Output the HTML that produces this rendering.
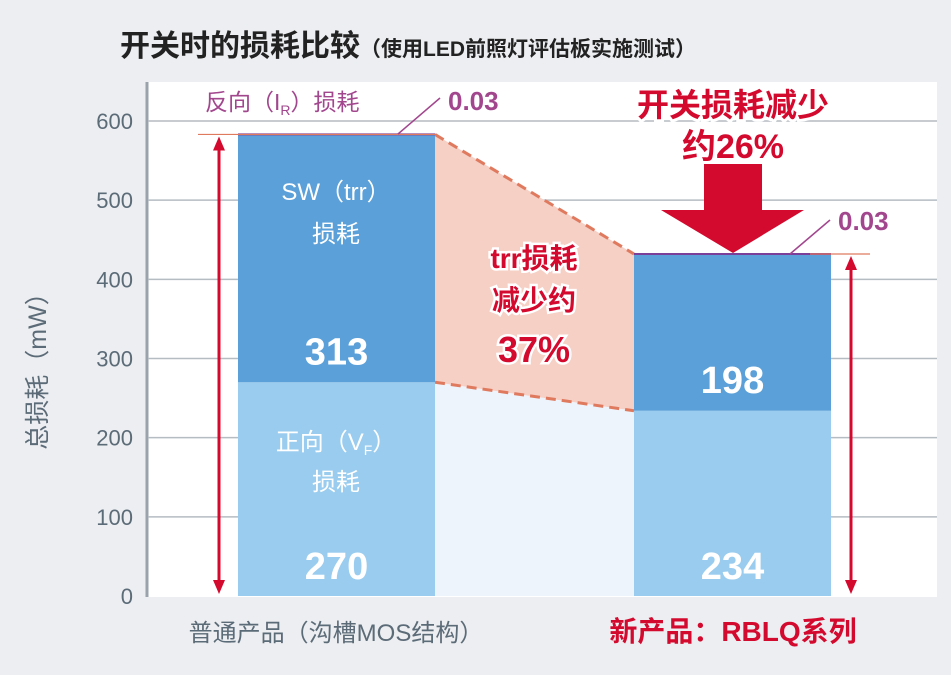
<!DOCTYPE html>
<html><head><meta charset="utf-8"><style>
body{margin:0;background:#eceef1;}
svg{display:block;font-family:"Liberation Sans","Noto Sans CJK SC",sans-serif;}
</style></head><body>
<svg width="951" height="675" viewBox="0 0 951 675">
<rect x="0" y="0" width="951" height="675" fill="#eceef1"/>
<text x="120" y="56" font-size="30" font-weight="bold" fill="#222">开关时的损耗比较<tspan font-size="21">（使用LED前照灯评估板实施测试）</tspan></text>
<rect x="147" y="82" width="790" height="515" fill="#fff"/>
<line x1="147" y1="82" x2="147" y2="597" stroke="#9aa3ab" stroke-width="3"/>
<g id="grid"></g>
<g id="regions"></g>
<g id="bars"></g>
<g id="ticks"></g>
<text x="46" y="365" font-size="25" fill="#5c6b78" transform="rotate(-90 46 365)" text-anchor="middle">总损耗（mW）</text>
<text x="205" y="110" font-size="23" fill="#a2468e">反向（I<tspan font-size="14" dy="5">R</tspan><tspan dy="-5">）损耗</tspan></text>
<line x1="398" y1="134" x2="440" y2="98" stroke="#a2468e" stroke-width="1.5"/>
<text x="448" y="110" font-size="26" font-weight="bold" fill="#a2468e">0.03</text>
<line x1="790" y1="254" x2="830" y2="220" stroke="#a2468e" stroke-width="1.5"/>
<text x="838" y="230" font-size="26" font-weight="bold" fill="#a2468e">0.03</text>
<text x="336" y="200" font-size="24" fill="#fff" text-anchor="middle">SW（trr）</text>
<text x="336" y="242" font-size="24" fill="#fff" text-anchor="middle">损耗</text>
<text x="336" y="450" font-size="24" fill="#fff" text-anchor="middle">正向（V<tspan font-size="14" dy="5">F</tspan><tspan dy="-5">）</tspan></text>
<text x="336" y="490" font-size="24" fill="#fff" text-anchor="middle">损耗</text>
<text x="534" y="268" font-size="28" font-weight="bold" fill="#d4092e" text-anchor="middle" stroke="#fff" stroke-width="5" paint-order="stroke">trr损耗</text>
<text x="534" y="310" font-size="28" font-weight="bold" fill="#d4092e" text-anchor="middle" stroke="#fff" stroke-width="5" paint-order="stroke">减少约</text>
<text x="534" y="362" font-size="36" font-weight="bold" fill="#d4092e" text-anchor="middle" stroke="#fff" stroke-width="5" paint-order="stroke">37%</text>
<text x="733" y="116" font-size="32" font-weight="bold" fill="#d4092e" text-anchor="middle" stroke="#fff" stroke-width="6" paint-order="stroke">开关损耗减少</text>
<text x="733" y="158" font-size="34" font-weight="bold" fill="#d4092e" text-anchor="middle" stroke="#fff" stroke-width="6" paint-order="stroke">约26%</text>
<polygon points="704,164 762,164 762,210 804,210 733,253 661,210 704,210" fill="#d4092e"/>
<text x="336" y="641" font-size="24" fill="#5c6b78" text-anchor="middle">普通产品（沟槽MOS结构）</text>
<text x="733" y="641" font-size="28" font-weight="bold" fill="#d4092e" text-anchor="middle">新产品：RBLQ系列</text>
</svg>
<script>
const categories=["普通产品","新产品"];
const forwardLoss=[270,234];
const switchLoss=[313,198];
const reverseLoss=[0.03,0.03];
const yTicks=[0,100,200,300,400,500,600];
const NS="http://www.w3.org/2000/svg";
const y=v=>596-v*(475/600);
const barX=[238,634], barW=197;
function mk(tag,attrs,parent){const e=document.createElementNS(NS,tag);for(const k in attrs)e.setAttribute(k,attrs[k]);document.getElementById(parent).appendChild(e);return e;}
yTicks.forEach(t=>{
 if(t>0){const l=mk('line',{x1:148,x2:937,y1:y(t),y2:y(t),stroke:'#b5bcc2','stroke-width':1.5},'grid');
 
 }
 const tx=mk('text',{x:133,y:y(t)+8,'font-size':22,fill:'#5c6b78','text-anchor':'end'},'ticks');
 tx.textContent=t;
 
 
});
const tot=[0,1].map(i=>forwardLoss[i]+switchLoss[i]);
const x1=barX[0]+barW,x2=barX[1];
let r=mk('polygon',{points:`${x1},${y(forwardLoss[0])} ${x2},${y(forwardLoss[1])} ${x2},${y(0)} ${x1},${y(0)}`,fill:'#eef4fb'},'regions');


r=mk('polygon',{points:`${x1},${y(tot[0])} ${x2},${y(tot[1])} ${x2},${y(forwardLoss[1])} ${x1},${y(forwardLoss[0])}`,fill:'#f6cfc5'},'regions');


[[tot,'top'],[forwardLoss,'mid']].forEach(([a,n])=>{
 const l=mk('line',{x1:x1,y1:y(a[0]),x2:x2,y2:y(a[1]),stroke:'#e07a5f','stroke-width':3,'stroke-dasharray':'10,6'},'regions');
 
 
});
[0,1].forEach(i=>{
 const bx=barX[i];
 let b=mk('rect',{x:bx,y:y(forwardLoss[i]),width:barW,height:y(0)-y(forwardLoss[i]),fill:'#99ccee'},'bars');
 
 
 b=mk('rect',{x:bx,y:y(tot[i]),width:barW,height:y(forwardLoss[i])-y(tot[i]),fill:'#5ba0d8'},'bars');
 
 
 b=mk('line',{x1:bx,x2:bx+barW,y1:y(tot[i]+reverseLoss[i]),y2:y(tot[i]+reverseLoss[i]),stroke:'#7b3f9a','stroke-width':2},'bars');
 
 
 let t=mk('text',{x:bx+barW/2,y:y(0)-17,'font-size':38,'font-weight':'bold',fill:'#fff','text-anchor':'middle'},'bars');
 t.textContent=forwardLoss[i];
 
 
 t=mk('text',{x:bx+barW/2,y:y(forwardLoss[i])-18,'font-size':38,'font-weight':'bold',fill:'#fff','text-anchor':'middle'},'bars');
 t.textContent=switchLoss[i];
 
 
 const ax=i==0?219:851, ref=i==0?198:810;
 let l=mk('line',{x1:ref,x2:ref+(i==0?238:60),y1:y(tot[i]),y2:y(tot[i]),stroke:'#e07a5f','stroke-width':1.2},'bars');
 
 
 l=mk('line',{x1:ax,x2:ax,y1:y(tot[i])+12,y2:y(0)-12,stroke:'#d4092e','stroke-width':3},'bars');
 
 
 [[y(tot[i]),1],[y(0),-1]].forEach(([p,d],k)=>{
  const h=mk('polygon',{points:`${ax},${p+d*2} ${ax-6},${p+d*16} ${ax+6},${p+d*16}`,fill:'#d4092e'},'bars');
  
  
 });
});
</script>
</body></html>
